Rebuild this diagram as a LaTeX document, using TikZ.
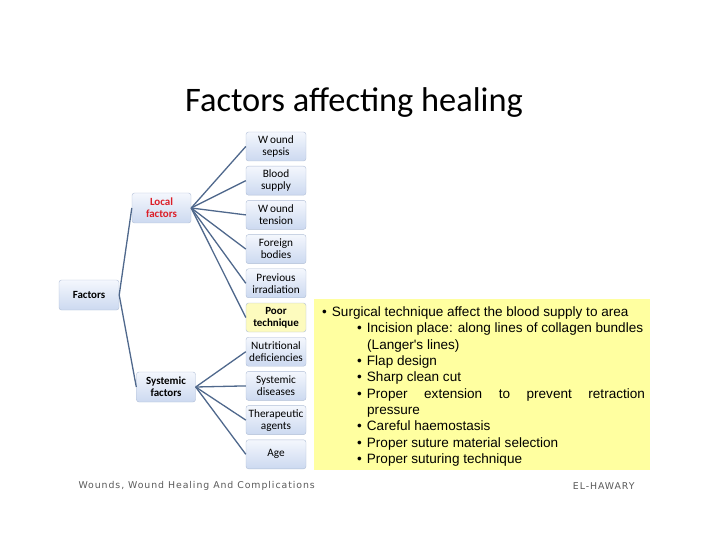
\documentclass[tikz,border=0pt]{standalone}
\usepackage{fontspec}
\setmainfont{Carlito}
\newfontfamily\notefont{Liberation Sans}
\newfontfamily\footfont[LetterSpace=10]{DejaVu Sans}
\usetikzlibrary{positioning}
\definecolor{linkblue}{RGB}{79,104,140}
\definecolor{boxline}{RGB}{176,190,214}
\definecolor{boxtop}{RGB}{244,247,253}
\definecolor{boxbot}{RGB}{204,217,240}
\definecolor{notefill}{RGB}{255,255,160}
\definecolor{poorfill}{RGB}{253,251,190}
\definecolor{localred}{RGB}{220,30,40}
\tikzset{
    factbox/.style  = {draw=boxline, rounded corners=2.5bp, align=center, inner sep=1bp,
                       top color=boxtop, bottom color=boxbot,
                       font=\fontsize{11.3}{12}\selectfont},
    rootbox/.style  = {factbox, minimum width=60bp, minimum height=30bp, font=\fontsize{11}{12}\bfseries},
    midbox/.style   = {factbox, minimum width=59bp, minimum height=30bp, font=\fontsize{11}{12}\bfseries},
    leaf/.style     = {factbox, minimum width=60bp, minimum height=29bp},
    poorleaf/.style = {leaf, top color=poorfill, bottom color=poorfill, font=\fontsize{11}{12}\bfseries},
    link/.style     = {draw=linkblue, line width=1.3bp},
    notebox/.style  = {fill=notefill, anchor=north west, inner sep=0pt,
                       minimum width=336bp, minimum height=171bp}
}
\begin{document}
\begin{tikzpicture}[x=1bp, y=-1bp]
    \useasboundingbox (0,0) rectangle (720,540);

    % Titel
    \node[font=\fontsize{34.5}{36}\selectfont] (title) at (354,103) {Factors affecting healing};

    % Baum
    \node[rootbox] (factors) at (89,295)  {Factors};
    \node[midbox, text=localred] (local) at (161.5,208) {Local\\factors};
    \node[midbox] (systemic) at (166,387) {Systemic\\factors};

    \foreach \n/\s/\t [count=\i from 0] in {
            sepsis/leaf/{W\,ound\\sepsis}, blood/leaf/{Blood\\supply},
            tension/leaf/{W\,ound\\tension}, foreign/leaf/{Foreign\\bodies},
            irrad/leaf/{Previous\\irradiation}, poor/poorleaf/{Poor\\technique},
            nutri/leaf/{Nutritional\\deficiencies}, sysdis/leaf/{Systemic\\diseases},
            thera/leaf/{Therapeutic\\agents}, age/leaf/{Age}}
        \node[\s] (\n) at (276,146.5+34.2*\i) {\t};

    % Verbindungen
    \draw[link] (factors.east) -- (local.west);
    \draw[link] (factors.east) -- (systemic.west);
    \foreach \n in {sepsis,blood,tension,foreign,irrad,poor}
        \draw[link] (local.east) -- (\n.west);
    \foreach \n in {nutri,sysdis,thera,age}
        \draw[link] (systemic.east) -- (\n.west);

    % Erlaeuterung zur Technik
    \node[notebox] (note) at (314,299) {};
    \node[anchor=north west, inner sep=0pt, align=left,
          font=\notefont\fontsize{13.6}{16.4}\selectfont] (notetext) at (322,306.5) {%
        \textbullet\hspace{5bp}Surgical technique affect the blood supply to area\\
        \hspace*{35bp}\textbullet\hspace{5bp}Incision place: along lines of collagen bundles\\
        \hspace*{45bp}(Langer's lines)\\
        \hspace*{35bp}\textbullet\hspace{5bp}Flap design\\
        \hspace*{35bp}\textbullet\hspace{5bp}Sharp clean cut\\
        \hspace*{35bp}\textbullet\hspace{5bp}\makebox[278bp][s]{Proper extension to prevent retraction}\\
        \hspace*{45bp}pressure\\
        \hspace*{35bp}\textbullet\hspace{5bp}Careful haemostasis\\
        \hspace*{35bp}\textbullet\hspace{5bp}Proper suture material selection\\
        \hspace*{35bp}\textbullet\hspace{5bp}Proper suturing technique};

    % Fusszeile
    \node[anchor=west, text=black!65, font=\footfont\fontsize{9.4}{10}\selectfont] (foot) at (75,486)
        {Wounds, Wound Healing And Complications};
    \node[anchor=east, text=black!65, font=\footfont\fontsize{9.4}{10}\selectfont] (author) at (638,486)
        {EL-HAWARY};
\end{tikzpicture}
\end{document}
